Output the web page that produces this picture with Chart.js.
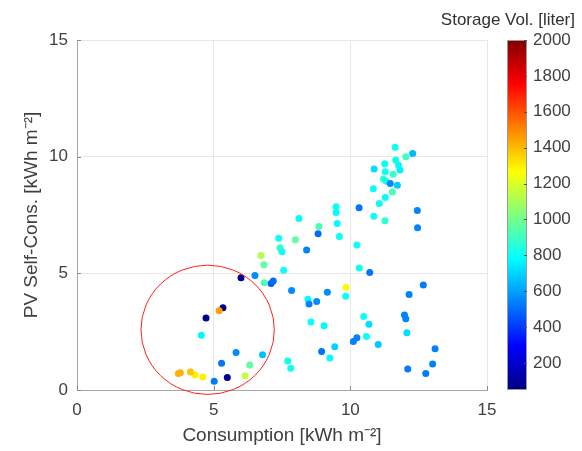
<!DOCTYPE html>
<html>
<head>
<meta charset="utf-8">
<script src="https://cdn.jsdelivr.net/npm/chart.js@4.4.0/dist/chart.umd.min.js"></script>
<style>
  html, body { margin: 0; padding: 0; background: #fff; }
  #wrap { width: 582px; height: 451px; }
</style>
</head>
<body>
<div id="wrap"><canvas id="storageChart" width="582" height="451"></canvas></div>
<script>
// values
var consumption = [11.64, 12.28, 12.03, 11.66, 11.26, 11.76, 10.87, 11.82, 11.28, 11.57,
    11.21, 11.31, 11.46, 11.72, 10.84, 11.54, 11.28, 11.06, 9.48, 10.32,
    12.45, 9.48, 10.86, 8.12, 11.27, 9.52, 8.85, 12.46, 8.82, 7.38,
    9.60, 7.99, 7.43, 7.50, 10.24, 8.40, 6.73, 6.84, 7.56, 10.33,
    10.71, 6.00, 6.51, 6.85, 7.10, 7.18, 7.85, 5.34, 5.20, 4.72,
    4.55, 5.82, 6.79, 7.71, 7.82, 5.29, 6.32, 6.15, 5.50, 5.02,
    4.60, 4.32, 4.15, 3.78, 3.71, 12.67, 12.15, 9.84, 9.83, 9.16,
    8.45, 8.49, 8.77, 8.56, 9.04, 10.49, 10.68, 10.59, 10.24, 10.11,
    11.02, 11.98, 12.03, 12.07, 9.43, 8.95, 9.25, 13.10, 13.01, 12.10, 12.76];
var selfCons = [10.40, 10.14, 10.00, 9.86, 9.70, 9.64, 9.47, 9.43, 9.35, 9.25,
    9.04, 8.95, 8.85, 8.77, 8.63, 8.49, 8.25, 7.99, 7.85, 7.81,
    7.69, 7.61, 7.45, 7.35, 7.25, 7.14, 7.01, 6.95, 6.70, 6.50,
    6.58, 6.44, 6.10, 5.93, 6.21, 6.00, 5.76, 5.37, 5.13, 5.23,
    5.04, 4.81, 4.91, 4.60, 4.56, 4.67, 4.26, 3.52, 3.40, 3.09,
    2.35, 1.61, 1.51, 1.24, 0.93, 1.15, 1.07, 0.61, 0.54, 0.38,
    0.56, 0.64, 0.77, 0.74, 0.71, 4.50, 4.09, 4.40, 4.02, 4.19,
    3.89, 3.69, 3.79, 2.91, 2.75, 3.15, 2.82, 2.29, 2.24, 2.08,
    1.95, 3.21, 3.05, 2.45, 1.85, 1.65, 1.37, 1.77, 1.11, 0.90, 0.71];
var storageVol = [800, 650, 900, 820, 800, 780, 720, 760, 800, 880,
    860, 820, 560, 680, 800, 920, 780, 800, 790, 520,
    550, 780, 800, 780, 870, 780, 920, 550, 500, 800,
    800, 960, 880, 800, 800, 540, 1120, 960, 800, 800,
    520, 100, 560, 930, 470, 500, 560, 90, 1450, 70,
    770, 560, 660, 820, 820, 520, 960, 1150, 90, 530,
    1300, 1300, 1380, 1420, 1420, 530, 540, 1280, 800, 560,
    780, 540, 560, 790, 780, 800, 720, 800, 540, 540,
    680, 540, 540, 720, 700, 520, 780, 540, 540, 530, 530];

var axisTicks = [0, 5, 10, 15];
var volTicks = [200, 400, 600, 800, 1000, 1200, 1400, 1600, 1800, 2000];
var volRange = [50, 2000];

// circled group (data units)
var highlight = { x: 4.78, y: 2.58, rx: 2.44, ry: 2.77 };

var fontFamily = "'Liberation Sans', Arial, Helvetica, sans-serif";
var textColor = '#404040';

function clamp01(v) { return Math.max(0, Math.min(1, v)); }

// matlab style jet colormap
function jet(t) {
    t = clamp01(t);
    var r = clamp01(1.5 - Math.abs(4 * t - 3));
    var g = clamp01(1.5 - Math.abs(4 * t - 2));
    var b = clamp01(1.5 - Math.abs(4 * t - 1));
    return 'rgb(' + Math.round(r * 255) + ',' + Math.round(g * 255) + ',' + Math.round(b * 255) + ')';
}

function volColor(chart, v) {
    var s = chart.scales && chart.scales.vol;
    var lo = s ? s.min : volRange[0];
    var hi = s ? s.max : volRange[1];
    return jet((v - lo) / (hi - lo));
}

function useTicks(list) {
    return function (scale) {
        scale.ticks = list.map(function (v) { return { value: v }; });
    };
}

function plainLabel(v) { return String(v); }

var points = consumption.map(function (x, i) {
    return { x: x, y: selfCons[i] };
});

// colorbar, inner tick marks, red circle and colorbar title
var extras = {
    id: 'extras',
    afterDatasetsDraw: function (chart) {
        var ctx = chart.ctx;
        var area = chart.chartArea;
        var xs = chart.scales.x, ys = chart.scales.y, vs = chart.scales.vol;

        ctx.save();
        // inward ticks on the left and bottom axes
        ctx.strokeStyle = '#8c8c8c';
        ctx.lineWidth = 1;
        axisTicks.forEach(function (v) {
            var px = Math.round(xs.getPixelForValue(v)) + 0.5;
            ctx.beginPath();
            ctx.moveTo(px, area.bottom);
            ctx.lineTo(px, area.bottom - 4);
            ctx.stroke();
            var py = Math.round(ys.getPixelForValue(v)) + 0.5;
            ctx.beginPath();
            ctx.moveTo(area.left, py);
            ctx.lineTo(area.left + 4, py);
            ctx.stroke();
        });

        // red circle
        var cx = xs.getPixelForValue(highlight.x);
        var cy = ys.getPixelForValue(highlight.y);
        var rx = Math.abs(xs.getPixelForValue(highlight.x + highlight.rx) - cx);
        var ry = Math.abs(ys.getPixelForValue(highlight.y + highlight.ry) - cy);
        ctx.strokeStyle = '#ff2020';
        ctx.lineWidth = 1;
        ctx.beginPath();
        ctx.ellipse(cx, cy, rx, ry, 0, 0, Math.PI * 2);
        ctx.stroke();

        // colorbar
        var barL = area.right + 20, barR = area.right + 40;
        var top = Math.round(vs.getPixelForValue(vs.max));
        var bot = Math.round(vs.getPixelForValue(vs.min));
        for (var y = top; y < bot; y++) {
            ctx.fillStyle = volColor(chart, vs.getValueForPixel(y + 0.5));
            ctx.fillRect(barL, y, barR - barL, 1);
        }
        ctx.strokeStyle = '#9a9a9a';
        ctx.strokeRect(barL + 0.5, top + 0.5, barR - barL - 1, bot - top - 1);
        ctx.strokeStyle = '#505050';
        volTicks.forEach(function (v) {
            var py = Math.round(vs.getPixelForValue(v)) + 0.5;
            ctx.beginPath();
            ctx.moveTo(barR - 3, py);
            ctx.lineTo(barR, py);
            ctx.stroke();
        });

        // colorbar title
        ctx.fillStyle = '#303030';
        ctx.font = '17px ' + fontFamily;
        ctx.textAlign = 'right';
        ctx.textBaseline = 'middle';
        ctx.fillText('Storage Vol. [liter]', 575, 20);
        ctx.restore();
    }
};

var chart = new Chart(document.getElementById('storageChart').getContext('2d'), {
    type: 'scatter',
    data: {
        datasets: [{
            label: 'Storage',
            data: points,
            pointRadius: 3.5,
            pointHoverRadius: 3.5,
            pointBorderWidth: 0,
            backgroundColor: function (c) {
                return volColor(c.chart, storageVol[c.dataIndex]);
            }
        }]
    },
    options: {
        responsive: false,
        animation: false,
        devicePixelRatio: 1,
        layout: { padding: { top: 40, left: 0, right: 0, bottom: 0 } },
        plugins: {
            legend: { display: false },
            tooltip: { enabled: false }
        },
        scales: {
            x: {
                type: 'linear',
                position: 'bottom',
                min: 0,
                max: 15,
                afterBuildTicks: useTicks(axisTicks),
                afterFit: function (s) { s.height = 61; },
                grid: { color: '#e8e8e8', drawTicks: false },
                border: { color: '#a6a6a6' },
                ticks: { padding: 10, color: textColor, font: { size: 17, family: fontFamily }, callback: plainLabel },
                title: {
                    display: true,
                    text: 'Consumption [kWh m\u207B\u00B2]',
                    color: textColor,
                    font: { size: 19, family: fontFamily },
                    padding: { top: 0, bottom: 4 }
                }
            },
            y: {
                type: 'linear',
                position: 'left',
                min: 0,
                max: 15,
                afterBuildTicks: useTicks(axisTicks),
                afterFit: function (s) { s.width = 77; },
                grid: { color: '#e8e8e8', drawTicks: false },
                border: { color: '#a6a6a6' },
                ticks: { padding: 9, color: textColor, font: { size: 17, family: fontFamily }, callback: plainLabel },
                title: {
                    display: true,
                    text: 'PV Self-Cons. [kWh m\u207B\u00B2]',
                    color: textColor,
                    font: { size: 19, family: fontFamily },
                    padding: { top: 20, bottom: 0 }
                }
            },
            vol: {
                type: 'linear',
                axis: 'y',
                position: 'right',
                min: volRange[0],
                max: volRange[1],
                afterBuildTicks: useTicks(volTicks),
                afterFit: function (s) { s.width = 95; },
                // invisible long ticks push the labels past the colorbar
                grid: { display: true, drawOnChartArea: false, drawTicks: true, tickLength: 42, color: 'rgba(0,0,0,0)' },
                border: { display: false },
                ticks: { padding: 4, color: textColor, font: { size: 17, family: fontFamily }, callback: plainLabel }
            }
        }
    },
    plugins: [extras]
});
</script>
</body>
</html>
